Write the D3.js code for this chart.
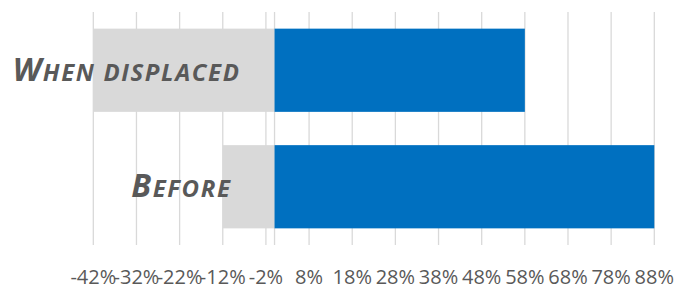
<!DOCTYPE html>
<html>
<head>
<meta charset="utf-8">
<script src="https://cdn.jsdelivr.net/npm/d3@7"></script>
<style>
  body { margin: 0; background: #fff; }
  svg { display: block; }
</style>
</head>
<body>
<div class="chart"></div>
<script>
// data, top row first
const categories = ["When displaced", "Before"];
const greyValues = [-42, -12];
const blueValues = [58, 88];
const tickValues = [-42, -32, -22, -12, -2, 8, 18, 28, 38, 48, 58, 68, 78, 88];

const width = 675, height = 286;
const plot = { left: 93.3, right: 654.3, top: 12, bottom: 245 };

const svg = d3.select(".chart").append("svg")
  .attr("width", width)
  .attr("height", height);

const x = d3.scaleLinear()
  .domain([-42, 88])
  .range([plot.left, plot.right]);

// excel gap width 40%
const y = d3.scaleBand()
  .domain(categories)
  .range([plot.top, plot.bottom])
  .paddingInner(0.4 / 1.4)
  .paddingOuter(0.2 / 1.4);

// gridlines + zero axis line
svg.append("g").selectAll("line")
  .data(tickValues.concat([0]))
  .enter()
  .append("line")
  .attr("x1", d => x(d))
  .attr("x2", d => x(d))
  .attr("y1", plot.top)
  .attr("y2", plot.bottom)
  .attr("stroke", "#d9d9d9")
  .attr("stroke-width", 1.3);

svg.append("g").selectAll("rect")
  .data(categories)
  .enter()
  .append("rect")
  .attr("x", (d, i) => x(greyValues[i]))
  .attr("width", (d, i) => x(0) - x(greyValues[i]))
  .attr("y", d => y(d))
  .attr("height", y.bandwidth())
  .attr("fill", "#d9d9d9");

svg.append("g").selectAll("rect")
  .data(categories)
  .enter()
  .append("rect")
  .attr("x", x(0))
  .attr("width", (d, i) => x(blueValues[i]) - x(0))
  .attr("y", d => y(d))
  .attr("height", y.bandwidth())
  .attr("fill", "#0070c0");

// tick labels (they overlap, like the original)
const fmt = d => d + "%";
svg.append("g").selectAll("text")
  .data(tickValues)
  .enter()
  .append("text")
  .attr("x", d => x(d))
  .attr("y", 284)
  .attr("text-anchor", "middle")
  .attr("font-family", "'Open Sans', sans-serif")
  .attr("font-size", 20)
  .attr("fill", "#595959")
  .text(fmt);

// category labels in small caps
const labelDx = [-34, -43];
const labels = svg.append("g").selectAll("text")
  .data(categories)
  .enter()
  .append("text")
  .attr("x", (d, i) => x(0) + labelDx[i])
  .attr("y", d => y(d) + y.bandwidth() / 2 + 10.5)
  .attr("text-anchor", "end")
  .attr("font-family", "'Open Sans', sans-serif")
  .attr("font-weight", "bold")
  .attr("font-style", "italic")
  .attr("letter-spacing", 1.6)
  .attr("fill", "#595959");

labels.append("tspan")
  .attr("font-size", 32)
  .text(d => d[0].toUpperCase());
labels.append("tspan")
  .attr("font-size", 24)
  .text(d => d.slice(1).toUpperCase());
</script>
</body>
</html>
